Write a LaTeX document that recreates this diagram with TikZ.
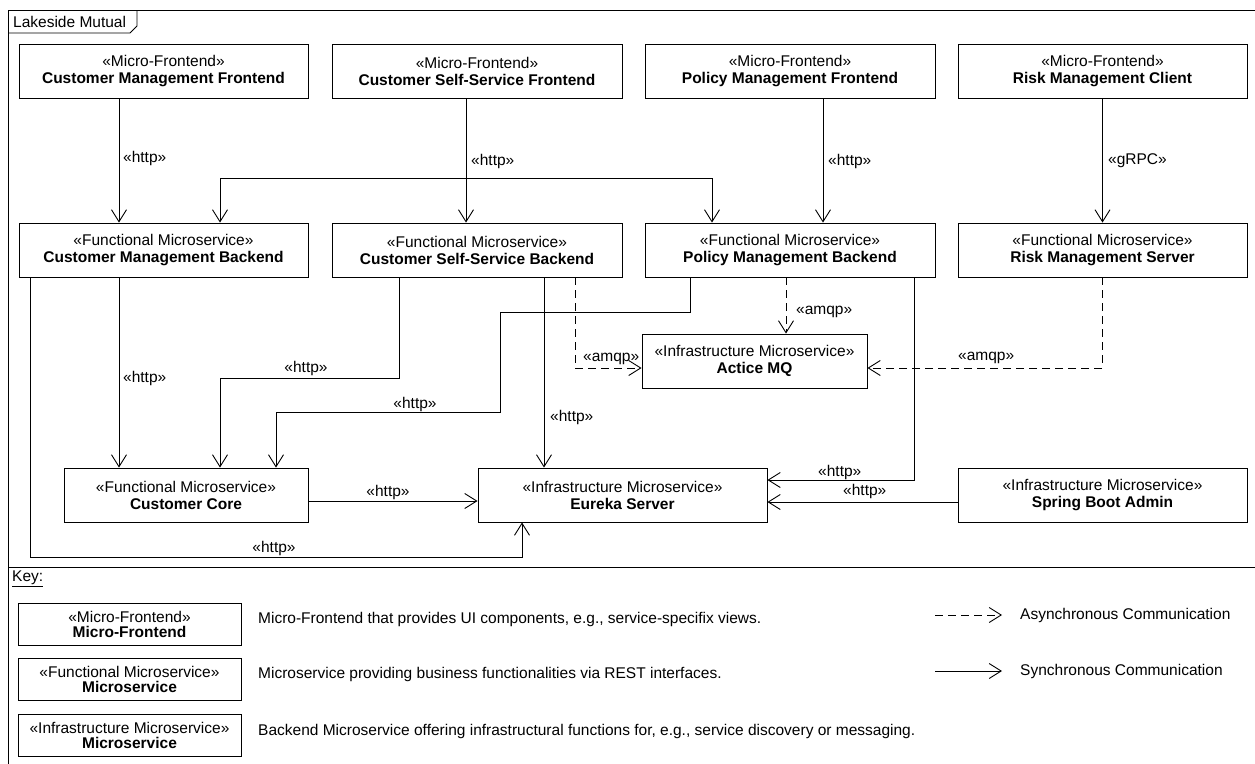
\documentclass[tikz,border=0pt]{standalone}
\usepackage{fontspec}
\setmainfont{Liberation Sans}
\usetikzlibrary{arrows.meta,calc}
\tikzset{
  box/.style={draw, line width=0.9pt, minimum width=289pt, minimum height=54pt, align=center, inner sep=0pt, font=\fontsize{15.5}{17}\selectfont},
  keybox/.style={draw, line width=0.9pt, minimum width=223pt, minimum height=42pt, align=center, inner sep=0pt, font=\fontsize{15.5}{15}\selectfont},
  lbl/.style={font=\fontsize{15.5}{17}\selectfont, inner sep=0pt},
  sync/.style={draw, line width=0.9pt, -{Straight Barb[length=12pt,width=15pt]}},
  async/.style={sync, dash pattern=on 8pt off 5pt},
  frameline/.style={draw, line width=0.9pt},
}
\begin{document}
\begin{tikzpicture}[x=1pt,y=-1pt]
\useasboundingbox (0,0) rectangle (1255,763);
\clip (0,0) rectangle (1255,763);

% frame
\draw[frameline] (8,800) -- (8,10) -- (1300,10);
\draw[frameline] (8,33) -- (130,33) -- (137,26) -- (137,10);
\node[lbl,anchor=west] (title) at (13,22) {Lakeside Mutual};

% row 1
\node[box] (cmf) at (163.5,71) {«Micro-Frontend»\\\textbf{Customer Management Frontend}};
\node[box, minimum width=290pt] (cssf) at (477,71) {«Micro-Frontend»\\\textbf{Customer Self-Service Frontend}};
\node[box, minimum width=290pt] (pmf) at (790,71) {«Micro-Frontend»\\\textbf{Policy Management Frontend}};
\node[box] (rmc) at (1102.5,71) {«Micro-Frontend»\\\textbf{Risk Management Client}};

% row 2
\node[box] (cmb) at (163.5,250) {«Functional Microservice»\\\textbf{Customer Management Backend}};
\node[box, minimum width=290pt] (cssb) at (477,250) {«Functional Microservice»\\\textbf{Customer Self-Service Backend}};
\node[box, minimum width=290pt] (pmb) at (790,250) {«Functional Microservice»\\\textbf{Policy Management Backend}};
\node[box] (rms) at (1102.5,250) {«Functional Microservice»\\\textbf{Risk Management Server}};

% middle
\node[box, minimum width=225pt] (mq) at (754.5,361) {«Infrastructure Microservice»\\\textbf{Actice MQ}};

% row 3
\node[box, minimum width=244pt] (cc) at (186,495) {«Functional Microservice»\\\textbf{Customer Core}};
\node[box] (eureka) at (622.5,495) {«Infrastructure Microservice»\\\textbf{Eureka Server}};
\node[box] (sba) at (1102.5,495) {«Infrastructure Microservice»\\\textbf{Spring Boot Admin}};

% row 1 -> row 2
\draw[sync] ([xshift=-44.5pt]cmf.south) -- ([xshift=-44.5pt]cmb.north);
\node[lbl,anchor=west] (l1) at (123,158) {«http»};

\draw[sync] ([xshift=-11pt]cssf.south) -- ([xshift=-11pt]cssb.north);
\coordinate (br) at (466,178);
\draw[sync] (br) -| ([xshift=56.5pt]cmb.north);
\draw[sync] (br) -| ([xshift=-78pt]pmb.north);
\node[lbl,anchor=west] (l2) at (471,161) {«http»};

\draw[sync] ([xshift=33pt]pmf.south) -- ([xshift=33pt]pmb.north);
\node[lbl,anchor=west] (l3) at (828,161) {«http»};

\draw[sync] (rmc.south) -- (rms.north);
\node[lbl,anchor=west] (l4) at (1108,161) {«gRPC»};

% row 2 -> lower
\draw[sync] ([xshift=-44.5pt]cmb.south) -- ([xshift=-67pt]cc.north);
\node[lbl,anchor=west] (l5) at (123,378) {«http»};

\draw[sync] ([xshift=-133.5pt]cmb.south) -- ++(0,280) -| ([xshift=-100.5pt]eureka.south);
\node[lbl] (l6) at (274,548) {«http»};

\draw[sync] ([xshift=-78pt]cssb.south) -- ++(0,101) -| ([xshift=34pt]cc.north);
\node[lbl] (l7) at (306,368) {«http»};

\draw[sync] ([xshift=-100pt]pmb.south) -- ++(0,35) -- ++(-190,0) -- ++(0,100) -| ([xshift=90pt]cc.north);
\node[lbl] (l8) at (415,404) {«http»};

\draw[sync] ([xshift=67pt]cssb.south) -- ([xshift=-78.5pt]eureka.north);
\node[lbl,anchor=west] (l9) at (550,417) {«http»};

\draw[async] ([xshift=98pt]cssb.south) |- ([yshift=-7pt]mq.west);
\node[lbl,anchor=west] (l10) at (583,359) {«amqp»};

\draw[async] ([xshift=-4pt]pmb.south) -- ([xshift=31.5pt]mq.north);
\node[lbl,anchor=west] (l11) at (796,312) {«amqp»};

\draw[async] (rms.south) |- ([yshift=-7pt]mq.east);
\node[lbl,anchor=west] (l12) at (958,358) {«amqp»};

\draw[sync] ([xshift=124pt]pmb.south) |- ([yshift=15pt]eureka.east);
\node[lbl,anchor=west] (l13) at (818,472) {«http»};

\draw[sync] ([yshift=-7pt]sba.west) -- ([yshift=-7pt]eureka.east);
\node[lbl,anchor=west] (l14) at (843,491) {«http»};

\draw[sync] ([yshift=-6pt]cc.east) -- ([yshift=-6pt]eureka.west);
\node[lbl] (l15) at (388,492) {«http»};

% key
\draw[frameline] (8,567) -- (1300,567);
\node[lbl,anchor=west] (key) at (12,579) {\underline{Key:}};

\node[keybox] (k1) at (129.5,624) {«Micro-Frontend»\\\textbf{Micro-Frontend}};
\node[keybox] (k2) at (129.5,679.5) {«Functional Microservice»\\\textbf{Microservice}};
\node[keybox] (k3) at (129.5,735.5) {«Infrastructure Microservice»\\\textbf{Microservice}};

\node[lbl,anchor=west] (d1) at (258,619) {Micro-Frontend that provides UI components, e.g., service-specifix views.};
\node[lbl,anchor=west] (d2) at (258,674) {Microservice providing business functionalities via REST interfaces.};
\node[lbl,anchor=west] (d3) at (258,731) {Backend Microservice offering infrastructural functions for, e.g., service discovery or messaging.};

\coordinate (a1s) at (935,615);
\coordinate (a1e) at (1002,615);
\draw[async] (a1s) -- (a1e);
\node[lbl,anchor=west] (t1) at (1020,615) {Asynchronous Communication};
\coordinate (a2s) at (935,671);
\coordinate (a2e) at (1002,671);
\draw[sync] (a2s) -- (a2e);
\node[lbl,anchor=west] (t2) at (1020,671) {Synchronous Communication};
\end{tikzpicture}
\end{document}
